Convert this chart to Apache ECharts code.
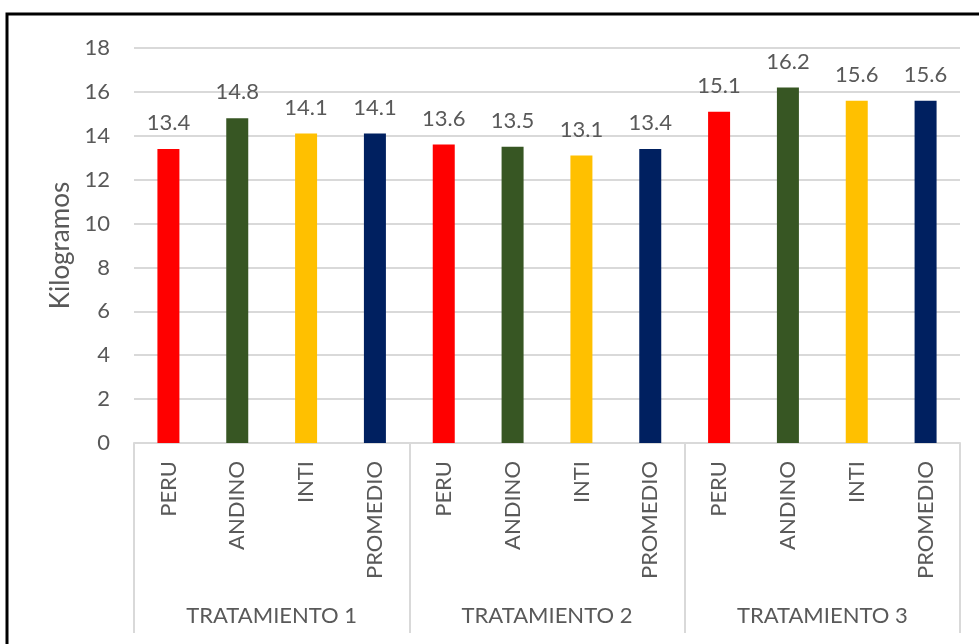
<!DOCTYPE html>
<html>
<head>
<meta charset="utf-8">
<script src="https://cdn.jsdelivr.net/npm/echarts@6/dist/echarts.min.js"></script>
<style>
html,body{margin:0;padding:0;background:#fff;}
#chart{width:979px;height:644px;}
</style>
</head>
<body>
<div id="chart"></div>
<script>
const varieties = ['PERU','ANDINO','INTI','PROMEDIO','PERU','ANDINO','INTI','PROMEDIO','PERU','ANDINO','INTI','PROMEDIO'];
const groups = ['TRATAMIENTO 1','TRATAMIENTO 2','TRATAMIENTO 3'];
const values = [13.4, 14.8, 14.1, 14.1, 13.6, 13.5, 13.1, 13.4, 15.1, 16.2, 15.6, 15.6];
const barColors = ['#FF0000','#375623','#FFC000','#002060'];
const yTicks = {min: 0, max: 18, interval: 2};
const yTitle = 'Kilogramos';

const txt = '#595959';
const grid = '#D9D9D9';
const font = 'Lato';

const chart = echarts.init(document.getElementById('chart'));
chart.setOption({
  animation: false,
  textStyle: {fontFamily: font},
  graphic: [{
    type: 'rect', shape: {x: 7, y: 14, width: 1000, height: 700},
    style: {fill: 'none', stroke: '#000', lineWidth: 3}, silent: true
  }],
  grid: {left: 134, right: 19, top: 48, bottom: 201, containLabel: false},
  xAxis: [{
    type: 'category', data: varieties, position: 'bottom', offset: 0,
    axisLine: {show: true, lineStyle: {color: grid, width: 2}},
    axisTick: {show: false},
    axisLabel: {rotate: 90, fontSize: 22, color: txt, margin: 18, interval: 0, fontFamily: font}
  }, {
    type: 'category', data: groups, position: 'bottom', offset: 0,
    axisLine: {show: false},
    axisTick: {show: true, length: 190, lineStyle: {color: grid, width: 2}},
    axisLabel: {fontSize: 22, color: txt, margin: 162, interval: 0, fontFamily: font}
  }],
  yAxis: {
    type: 'value', min: yTicks.min, max: yTicks.max, interval: yTicks.interval,
    name: yTitle, nameLocation: 'middle', nameGap: 60,
    nameTextStyle: {fontSize: 26, color: txt, fontFamily: font},
    axisLine: {show: false}, axisTick: {show: false},
    axisLabel: {fontSize: 22, color: txt, margin: 24, fontFamily: font},
    splitLine: {lineStyle: {color: grid, width: 2}}
  },
  series: [{
    type: 'bar', xAxisIndex: 0, barWidth: 22,
    data: values.map((v, i) => ({value: v, itemStyle: {color: barColors[i % 4]}})),
    label: {show: true, position: 'top', distance: 15, fontSize: 22, color: txt, fontFamily: font,
      formatter: p => p.value.toFixed(1)}
  }]
});
</script>
</body>
</html>
